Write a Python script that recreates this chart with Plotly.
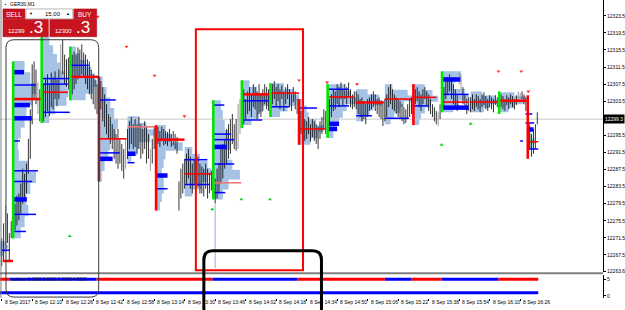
import plotly.graph_objects as go

W, H = 625, 310

# ---------------- data ----------------
tick_minutes = [0, 16, 32, 48, 64, 80, 96, 112, 128, 144, 160, 176, 192, 208, 224, 240, 256, 272]
tick_labels = ["8 Sep 2017", "8 Sep 12:10", "8 Sep 12:26", "8 Sep 12:42", "8 Sep 12:58",
               "8 Sep 13:14", "8 Sep 13:30", "8 Sep 13:46", "8 Sep 14:02", "8 Sep 14:18",
               "8 Sep 14:34", "8 Sep 14:50", "8 Sep 15:06", "8 Sep 15:22", "8 Sep 15:38",
               "8 Sep 15:54", "8 Sep 16:10", "8 Sep 16:26"]
price_ticks = [12323.5, 12319.5, 12315.5, 12311.5, 12307.5, 12303.5, 12295.5, 12291.5,
               12287.5, 12283.5, 12279.5, 12275.5, 12271.5, 12267.5, 12263.6]
current_price = 12299.3
bid_price = "12299"
ask_price = "12300"
lot_size = "15.00"

# one-minute bars, minute 0 = 11:54
bar_high = [
    12271.4, 12274.9, 12279.1, 12277.2, 12272.6, 12275.4,
    12278.4, 12279.5, 12281.4, 12281.9, 12284.2, 12287.7, 12286.5, 12288.9, 12294.7, 12301.6, 12312.1, 12312.8, 12310.9, 12307.9, 12306.3,
    12308.6, 12307.5, 12308.6, 12309.8, 12307.5, 12310.2, 12309.1, 12310.5, 12308.6, 12310.9, 12316.8, 12317.9, 12314.4, 12313.3, 12313.7,
    12313.3, 12314.4, 12315.1, 12314.4, 12316.1, 12315.6, 12316.8, 12314.9, 12314.4, 12313.3, 12312.8, 12310.9, 12309.8, 12308.6, 12307.5,
    12309.1, 12308.2, 12306.8, 12305.1, 12302.8, 12300.5, 12299.8, 12298.1, 12297.0, 12295.8, 12297.0, 12294.7, 12293.5, 12292.3, 12294.7,
    12297.0, 12298.8, 12299.8, 12298.1, 12299.3, 12298.1, 12299.8, 12298.1, 12297.0, 12298.8, 12297.5, 12295.8, 12292.3, 12294.7, 12297.5,
    12297.0, 12297.5, 12296.5, 12297.5, 12297.0, 12296.5, 12296.3, 12297.0, 12295.8, 12296.5, 12295.8, 12295.1, 12284.7, 12287.7, 12288.9,
    12290.0, 12291.2, 12292.3, 12290.5, 12288.9, 12290.0, 12291.9, 12290.5, 12288.9, 12288.2, 12287.7, 12288.9, 12287.7, 12286.5, 12287.2,
    12286.5, 12285.4, 12287.7, 12288.9, 12292.3, 12293.5, 12294.7, 12297.0, 12298.1, 12299.3, 12300.5, 12298.1, 12299.3, 12302.8, 12304.0,
    12305.1, 12306.3, 12304.0, 12305.8, 12306.8, 12305.1, 12307.5, 12306.8, 12305.8, 12307.5, 12305.1, 12306.3, 12307.5, 12306.8, 12306.3,
    12306.8, 12307.5, 12308.2, 12306.8, 12307.5, 12306.3, 12307.2, 12305.8, 12306.8, 12307.5, 12306.3, 12305.1, 12306.8, 12305.8, 12304.0,
    12302.8, 12301.2, 12299.8, 12299.3, 12298.8, 12299.8, 12298.1, 12299.3, 12298.8, 12298.1, 12297.5, 12298.8, 12299.8, 12301.6, 12301.2,
    12302.8, 12304.0, 12305.1, 12306.3, 12305.8, 12307.5, 12306.8, 12307.9, 12306.3, 12307.5, 12306.8, 12307.9, 12306.3, 12305.1, 12305.8,
    12305.8, 12305.1, 12304.0, 12304.4, 12303.5, 12302.8, 12304.0, 12304.4, 12305.1, 12305.8, 12305.1, 12304.0, 12304.4, 12303.5, 12302.8,
    12304.0, 12305.1, 12306.8, 12307.5, 12306.3, 12305.1, 12304.4, 12304.0, 12303.5, 12302.8, 12302.1, 12301.6, 12302.8, 12304.0, 12304.4,
    12305.1, 12306.3, 12306.8, 12305.8, 12305.1, 12306.3, 12306.8, 12305.8, 12305.1, 12304.0, 12302.8, 12302.1, 12301.2, 12300.9, 12302.8,
    12305.1, 12306.8, 12308.2, 12309.1, 12309.8, 12308.6, 12307.5, 12306.3, 12305.1, 12310.2, 12309.8, 12306.8, 12305.1, 12304.0, 12304.4,
    12304.4, 12305.1, 12304.0, 12305.1, 12304.7, 12304.0, 12305.1, 12305.6, 12304.7, 12304.0, 12304.9, 12304.4, 12304.0, 12304.9, 12304.4,
    12304.4, 12305.1, 12304.7, 12304.0, 12304.9, 12304.4, 12305.1, 12304.7, 12304.0, 12304.9, 12305.8, 12305.4, 12305.8, 12305.1, 12304.4,
    12301.6, 12298.1, 12295.8, 12297.0, 12298.1, 12300.9,
]
bar_low = [
    12264.9, 12266.3, 12269.8, 12270.3, 12266.3, 12271.4,
    12271.4, 12273.3, 12274.4, 12275.6, 12277.2, 12279.5, 12280.7, 12281.9, 12286.5, 12290.0, 12298.1, 12304.0, 12302.8, 12300.5, 12298.8,
    12298.4, 12298.8, 12299.8, 12301.2, 12300.0, 12302.1, 12301.6, 12304.0, 12302.3, 12304.0, 12308.6, 12309.8, 12307.5, 12306.8, 12306.3,
    12304.0, 12305.1, 12306.3, 12307.5, 12308.6, 12309.1, 12309.8, 12309.3, 12307.5, 12306.3, 12305.1, 12304.0, 12302.8, 12301.6, 12300.5,
    12302.8, 12301.6, 12298.8, 12297.5, 12295.8, 12294.7, 12293.5, 12292.3, 12290.0, 12288.9, 12287.7, 12288.9, 12287.2, 12285.4, 12287.7,
    12290.0, 12292.3, 12293.5, 12292.3, 12292.8, 12291.2, 12292.3, 12290.0, 12291.2, 12292.3, 12288.9, 12290.0, 12287.2, 12288.9, 12292.3,
    12292.3, 12293.5, 12292.8, 12294.2, 12293.2, 12293.5, 12293.0, 12294.0, 12292.8, 12293.2, 12292.3, 12291.2, 12277.9, 12280.7, 12281.9,
    12283.0, 12284.2, 12285.4, 12283.0, 12281.9, 12284.2, 12285.4, 12283.5, 12281.9, 12281.9, 12281.2, 12283.0, 12280.7, 12281.9, 12282.6,
    12280.7, 12279.5, 12280.7, 12281.9, 12284.2, 12285.4, 12287.7, 12288.9, 12290.0, 12291.2, 12293.5, 12292.3, 12291.9, 12292.3, 12295.8,
    12297.7, 12298.1, 12299.3, 12300.5, 12301.2, 12299.8, 12302.1, 12301.6, 12299.3, 12300.5, 12299.8, 12301.2, 12302.8, 12301.6, 12301.2,
    12301.6, 12302.8, 12304.0, 12302.1, 12303.5, 12301.6, 12304.0, 12301.2, 12302.8, 12304.0, 12302.1, 12301.2, 12303.3, 12301.6, 12300.5,
    12297.0, 12295.8, 12294.7, 12294.2, 12294.7, 12295.8, 12294.0, 12295.1, 12294.2, 12293.5, 12292.3, 12294.7, 12295.8, 12297.0, 12295.8,
    12298.1, 12298.1, 12299.8, 12301.2, 12301.6, 12302.8, 12302.1, 12304.0, 12302.6, 12304.0, 12302.8, 12304.4, 12302.1, 12301.6, 12302.1,
    12301.6, 12300.5, 12299.8, 12298.8, 12299.3, 12298.1, 12299.8, 12301.2, 12301.6, 12302.1, 12301.2, 12300.5, 12299.8, 12299.3, 12297.7,
    12298.8, 12299.8, 12302.1, 12302.8, 12301.6, 12301.2, 12300.5, 12299.8, 12299.3, 12298.8, 12298.1, 12298.4, 12299.3, 12299.8, 12300.5,
    12301.6, 12302.8, 12303.5, 12302.1, 12301.2, 12302.8, 12304.0, 12302.6, 12301.2, 12300.5, 12299.8, 12298.8, 12298.1, 12297.7, 12299.3,
    12301.2, 12302.1, 12304.0, 12305.1, 12305.8, 12304.0, 12302.8, 12302.1, 12301.2, 12307.5, 12306.3, 12302.8, 12301.6, 12300.5, 12301.2,
    12300.9, 12301.6, 12301.2, 12302.1, 12301.6, 12300.9, 12302.1, 12302.6, 12301.6, 12301.2, 12302.1, 12301.6, 12300.9, 12302.6, 12302.1,
    12301.6, 12302.1, 12301.6, 12301.2, 12302.6, 12301.6, 12302.8, 12302.1, 12301.6, 12302.6, 12303.5, 12303.0, 12304.0, 12302.8, 12301.2,
    12295.8, 12292.3, 12290.5, 12291.2, 12292.3, 12298.1,
]
gray_bars = [2, 19, 31, 65, 78, 124, 125, 229, 240, 241, 271, 272]

wick_minute = [112]
wick_low = [12264.4]
wick_high = [12279.3]

# 15-minute volume profiles
profile_start = [-9, 6, 21, 36, 51, 66, 81, 96, 111, 126, 141, 156, 171, 186, 201, 216, 231, 246, 261, 276]
profile_low = [12267.3, 12271.4, 12298.4, 12303.7, 12284.7, 12289.3, 12277.9, 12281.2, 12280.5, 12297.9,
               12299.8, 12293.3, 12294.9, 12298.8, 12298.1, 12297.9, 12300.9, 12300.9, 12300.9, 12292.3]
profile_high = [12270.7, 12312.9, 12318.6, 12316.3, 12309.3, 12300.0, 12297.9, 12292.8, 12303.7, 12308.4,
                12307.7, 12304.0, 12307.5, 12306.3, 12307.5, 12307.5, 12310.5, 12305.8, 12305.6, 12296.0]
profile_widths = [
    [10, 11.5, 12.3, 11],
    [4, 6, 8, 7, 9, 12, 8, 3, 2.5, 4, 6, 7, 10, 12, 9, 6],
    [4, 7, 13, 14, 13, 12, 10, 8, 6, 4],
    [8, 12, 14, 13, 11, 8, 5, 3],
    [1.5, 3, 5, 6, 9, 10, 8, 6, 4, 2],
    [2, 5, 6, 12, 14, 10, 6],
    [2, 3, 4, 4, 3, 4, 5, 14, 8, 5],
    [4, 9, 12, 14, 12, 8, 4],
    [5, 8, 14, 10, 7, 9, 8, 6, 5, 4],
    [5, 9, 11, 14, 15, 8, 4],
    [5, 9, 13, 15, 12, 7],
    [6, 10, 13, 9, 5, 4, 2],
    [3, 4, 6, 8, 10, 15, 12, 9],
    [4, 7, 9, 14, 12, 6],
    [3, 5, 8, 10, 15, 12, 4],
    [3, 4, 6, 9, 13, 10, 6],
    [6, 9, 14, 12, 6, 7, 10],
    [7, 10, 14, 13, 6],
    [5, 8, 13, 14, 8],
    [2.5, 3.5, 2],
]

# session open lines
open_minute = [6, 21, 36, 51, 81, 111, 126, 141, 156, 171, 216, 231, 261, 276]
open_low = [12271.4, 12298.4, 12303.7, 12284.7, 12277.9, 12280.5, 12297.2, 12299.8, 12293.3, 12294.9, 12297.9, 12300.9, 12300.5, 12290.0]
open_high = [12312.8, 12318.6, 12316.3, 12309.3, 12297.9, 12303.7, 12308.4, 12307.7, 12304.0, 12307.5, 12307.5, 12310.5, 12305.8, 12304.9]
open_up = [True, True, True, False, False, True, True, True, False, True, False, True, True, False]

# point of control lines
poc_price = [12266.1, 12304.0, 12305.6, 12309.2, 12294.7, 12297.5, 12294.5, 12286.5, 12284.4, 12305.1,
             12305.4, 12297.0, 12304.5, 12303.2, 12304.0, 12304.4, 12303.3, 12303.3, 12303.6, 12294.0]
poc_start = [0.6, 6, 21, 36, 51, 66, 81, 96, 111, 126, 141, 156, 171, 186, 201, 216, 231, 246, 261, 276]
poc_end = [5.9, 20.6, 34.7, 50.9, 65.5, 80.7, 95.9, 110.5, 125.7, 141.4, 156, 170.1, 184.8, 200.5, 215, 228, 245, 260.6, 275.3, 281.5]
poc_strong = [True, True, False, True, False, False, True, False, False, True, False, False, False, True, False, False, False, False, True, False]
poc_faded = [False, False, False, False, False, True, False, False, True, False, False, False, False, False, False, False, False, False, False, False]

# high-volume node lines
node_price = [12268.6, 12310.3, 12307.3, 12302.6, 12299.5, 12294.2, 12287.2, 12284.7, 12280.5, 12277.0, 12273.0,
              12308.8, 12307.5, 12300.9, 12311.9,
              12303.8, 12291.4, 12290.0, 12291.2, 12289.1, 12286.1, 12283.0, 12289.8, 12284.0,
              12302.6, 12295.8, 12294.5, 12292.8, 12288.8, 12282.1, 12303.6, 12299.1, 12302.2, 12301.9,
              12306.3, 12302.4, 12298.2, 12297.0, 12300.1, 12299.5, 12302.4, 12308.6, 12305.1, 12302.0,
              12300.5, 12298.4, 12296.9, 12292.3, 12294.2]
node_start = [0.2, 6, 6, 6, 6, 6, 6, 6, 6, 6, 6,
              21, 21, 21, 36,
              51, 51, 51, 66, 66, 81, 81, 96, 96,
              111, 111, 111, 111, 111, 111, 126, 126, 141, 156,
              171, 171, 171, 171, 186, 201, 216, 231, 231, 231,
              274.8, 274.8, 276.3, 276.3, 272]
node_end = [4.3, 11.7, 18, 14.8, 15.8, 9.6, 19, 16, 13.2, 18, 12.7,
            35.7, 34.7, 35.7, 45.7,
            59.8, 61.9, 58.2, 70.2, 69.7, 87, 87, 107.9, 108.9,
            116.8, 120.4, 122, 118, 122, 117.3, 140.3, 136.7, 150.8, 165.4,
            182.2, 182.2, 177, 176, 194.2, 213.6, 224, 240.7, 245, 245,
            278.4, 279.4, 279, 281.5, 273.5]
node_heavy = [False, True, False, True, True, False, False, False, True, False, False,
              False, False, False, False,
              False, False, True, True, False, True, False, False, False,
              False, False, False, True, False, False, False, False, False, False,
              False, False, True, True, False, False, False, True, False, True,
              False, False, True, False, False]

# signal arrows
sell_minute = [50.4, 65.5, 80.2, 95.9, 156, 170.7, 186.4, 260.6, 272.6, 276.3]
sell_price = [12323.3, 12316.3, 12309.5, 12300.0, 12308.4, 12307.9, 12307.5, 12310.5, 12310.5, 12305.8]
buy_minute = [35.7, 110.5, 125.7, 140.8, 230.8, 246]
buy_price = [12271.9, 12278.2, 12280.5, 12280.5, 12293.3, 12298.2]

# lower indicator window
state_edges = [-0.9, 4.3, 49.8, 110.5, 155, 201, 215, 230.8, 260.6, 281.5]
state_up = [False, True, False, True, False, True, False, True, False]
state_level = 5
base_level = 1

# ---------------- figure ----------------
X_MIN, X_MAX = -0.89, 315.5
Y_MIN, Y_MAX = 12263.45, 12327.2
X_END = 605 / W


def pxx(p):
    return p / W


def pxy(p):
    return 1 - p / H


fig = go.Figure()


def profile_xy(starts, lows, highs, widths_list):
    xs, ys = [], []
    for t0, lo, hi, ws in zip(starts, lows, highs, widths_list):
        step = (hi - lo) / len(ws)
        xs.append(t0)
        ys.append(lo)
        for i, w in enumerate(ws):
            xs += [t0 + w, t0 + w]
            ys += [lo + i * step, lo + (i + 1) * step]
        xs += [t0, None]
        ys += [hi, None]
    return xs, ys

px_, py_ = profile_xy(profile_start[:-1], profile_low[:-1], profile_high[:-1], profile_widths[:-1])
fig.add_trace(go.Scatter(x=px_, y=py_, fill='toself', fillcolor='#a5c2e5', mode='lines',
                         line=dict(width=0, color='#a5c2e5'), hoverinfo='skip'))
px_, py_ = profile_xy(profile_start[-1:], profile_low[-1:], profile_high[-1:], profile_widths[-1:])
fig.add_trace(go.Scatter(x=px_, y=py_, fill='toself', fillcolor='#92dcd0', mode='lines',
                         line=dict(width=0, color='#92dcd0'), hoverinfo='skip'))

# current price line
fig.add_trace(go.Scatter(x=[X_MIN, X_MAX], y=[current_price, current_price], mode='lines',
                         line=dict(color='#c8c8c8', width=1), hoverinfo='skip'))

# long wick
wx, wy = [], []
for m, lo, hi in zip(wick_minute, wick_low, wick_high):
    wx += [m, m, None]
    wy += [lo, hi, None]
fig.add_trace(go.Scatter(x=wx, y=wy, mode='lines', line=dict(color='#b0b8ec', width=1.2), hoverinfo='skip'))

# bar sticks
bx, by, gx, gy = [], [], [], []
for i, (h, l) in enumerate(zip(bar_high, bar_low)):
    if i in gray_bars:
        gx += [i, i, None]
        gy += [l, h, None]
    else:
        bx += [i, i, None]
        by += [l, h, None]
fig.add_trace(go.Scatter(x=gx, y=gy, mode='lines', line=dict(color='#9a9a9a', width=1), hoverinfo='skip'))
fig.add_trace(go.Scatter(x=bx, y=by, mode='lines', line=dict(color='#000000', width=0.8), hoverinfo='skip'))

# node lines
for heavy, wdt in [(False, 1.5), (True, 4.5)]:
    nx, ny = [], []
    for p, s, e, hv in zip(node_price, node_start, node_end, node_heavy):
        if hv == heavy:
            nx += [s, e, None]
            ny += [p, p, None]
    fig.add_trace(go.Scatter(x=nx, y=ny, mode='lines', line=dict(color='#0000ff', width=wdt), hoverinfo='skip'))

# POC lines
for strong in (False, True):
    for faded in (False, True):
        cx, cy = [], []
        for p, s, e, st, fd in zip(poc_price, poc_start, poc_end, poc_strong, poc_faded):
            if st == strong and fd == faded:
                cx += [s, e, None]
                cy += [p, p, None]
        if cx:
            fig.add_trace(go.Scatter(x=cx, y=cy, mode='lines',
                                     line=dict(color='#f07878' if faded else '#ff0000', width=2.5 if strong else 1.6),
                                     hoverinfo='skip'))

# session open lines
for up in (True, False):
    ox, oy = [], []
    for m, lo, hi, u in zip(open_minute, open_low, open_high, open_up):
        if u == up:
            ox += [m, m, None]
            oy += [lo, hi, None]
    fig.add_trace(go.Scatter(x=ox, y=oy, mode='lines',
                             line=dict(color='#00e600' if up else '#ff0000', width=2.6), hoverinfo='skip'))

# signal arrows
fig.add_trace(go.Scatter(x=sell_minute, y=sell_price, mode='markers',
                         marker=dict(symbol='triangle-down', size=3.5, color='#ff3030'), hoverinfo='skip'))
fig.add_trace(go.Scatter(x=buy_minute, y=buy_price, mode='markers',
                         marker=dict(symbol='triangle-up', size=3.5, color='#10d010'), hoverinfo='skip'))

# lower window
for up in (True, False):
    sx, sy = [], []
    for k, u in enumerate(state_up):
        if u == up:
            sx += [state_edges[k], state_edges[k + 1], None]
            sy += [state_level, state_level, None]
    fig.add_trace(go.Scatter(x=sx, y=sy, mode='lines', yaxis='y2',
                             line=dict(color='#0000ff' if up else '#ff0000', width=3), hoverinfo='skip'))
fig.add_trace(go.Scatter(x=[state_edges[0], state_edges[-1]], y=[base_level, base_level], mode='lines', yaxis='y2',
                         line=dict(color='#0000ff', width=3), hoverinfo='skip'))

FONT = "Liberation Sans"
fig.update_layout(
    width=W, height=H, margin=dict(l=0, r=0, t=0, b=0),
    paper_bgcolor='white', plot_bgcolor='white', showlegend=False,
    xaxis=dict(domain=[0, X_END], range=[X_MIN, X_MAX], anchor='y2', showgrid=False, zeroline=False,
               tickmode='array', tickvals=tick_minutes, ticks='outside', ticklen=2, tickcolor='#000',
               showticklabels=False, showline=False, fixedrange=True),
    yaxis=dict(domain=[1 - 274 / H, 1], range=[Y_MIN, Y_MAX], side='right', anchor='x', showgrid=False,
               zeroline=False, tickmode='array', tickvals=price_ticks,
               ticktext=[f"{v:.1f}" for v in price_ticks], ticks='outside', ticklen=2, tickcolor='#000',
               showline=True, linecolor='#000', linewidth=1,
               tickfont=dict(family=FONT, size=5, color='#000')),
    yaxis2=dict(domain=[1 - 300 / H, 1 - 277 / H], range=[-0.62, 6.19], side='right', anchor='x', showgrid=False,
                zeroline=False, tickmode='array', tickvals=[5, 0], ticktext=['5', '0'], ticks='outside', ticklen=2,
                tickcolor='#000', showline=True, linecolor='#000', linewidth=1,
                tickfont=dict(family=FONT, size=5, color='#000')),
)

shapes = []
ann = []

# frame lines
shapes.append(dict(type='line', xref='paper', yref='paper', x0=pxx(1), x1=pxx(1), y0=pxy(0), y1=pxy(300),
                   line=dict(color='#808080', width=1)))
shapes.append(dict(type='line', xref='paper', yref='paper', x0=0, x1=X_END, y0=pxy(275), y1=pxy(275),
                   line=dict(color='#808080', width=2)))


def rrect_path(x0, y0, x1, y1, r):
    pts = [('M', x0, y0 + r), ('Q', x0, y0, x0 + r, y0), ('L', x1 - r, y0), ('Q', x1, y0, x1, y0 + r),
           ('L', x1, y1 - r), ('Q', x1, y1, x1 - r, y1), ('L', x0 + r, y1), ('Q', x0, y1, x0, y1 - r)]
    out = []
    for seg in pts:
        cmd = seg[0]
        coords = seg[1:]
        parts = []
        for j in range(0, len(coords), 2):
            parts.append(f"{pxx(coords[j]):.5f},{pxy(coords[j + 1]):.5f}")
        out.append(cmd + ' ' + ' '.join(parts))
    return ' '.join(out) + ' Z'

# drawn highlight objects
shapes.append(dict(type='path', xref='paper', yref='paper', path=rrect_path(6, 40, 99, 299, 8),
                   line=dict(color='#3a3a3a', width=1)))
shapes.append(dict(type='rect', xref='paper', yref='paper', x0=pxx(196.5), x1=pxx(304), y0=pxy(29.5), y1=pxy(272),
                   line=dict(color='#ff0000', width=2)))
shapes.append(dict(type='path', xref='paper', yref='paper', path=rrect_path(204.5, 252.5, 322.5, 330, 9),
                   line=dict(color='#000000', width=3)))

# trade panel
RED = '#c8141f'
for (x0, y0, x1, y1) in [(3, 9, 25, 19), (74, 9, 97, 19), (3, 19.5, 48.5, 37), (50, 19.5, 97, 37)]:
    shapes.append(dict(type='rect', xref='paper', yref='paper', x0=pxx(x0), x1=pxx(x1), y0=pxy(y0), y1=pxy(y1),
                       fillcolor=RED, line=dict(color='#a00010', width=0.5), layer='above'))
shapes.append(dict(type='rect', xref='paper', yref='paper', x0=pxx(26), x1=pxx(73), y0=pxy(9), y1=pxy(19),
                   fillcolor='white', line=dict(color='#9a9a9a', width=0.7), layer='above'))


def text(x, y, s, size, color='#000', anchor='left'):
    ann.append(dict(x=pxx(x), y=pxy(y), xref='paper', yref='paper', text=s,
                    showarrow=False, xanchor=anchor, yanchor='middle',
                    font=dict(family=FONT, size=size, color=color)))

text(14, 14.2, "SELL", 6.5, '#ffffff', 'center')
text(85.5, 14.2, "BUY", 6.5, '#ffffff', 'center')
text(31, 14, "▼", 4, '#000', 'center')
text(68, 14, "▲", 4, '#000', 'center')
text(53, 14.2, lot_size, 6, '#000', 'center')
text(17, 31, bid_price, 6, '#ffffff', 'center')
text(27, 27.5, ".3", 17, '#ffffff', 'left')
text(64, 31, ask_price, 6, '#ffffff', 'center')
text(74, 27.5, ".3", 17, '#ffffff', 'left')
text(2, 4, "▲", 3, '#333', 'left')
text(8, 4, "GER30,M1", 5, '#000', 'left')
text(10, 281, "volume 1.0000 2.0000 3.0000 4.0000", 4.5, '#202020', 'left')

# current price label
ann.append(dict(x=X_END, y=current_price, xref='paper', yref='y', text=f"{current_price:.1f}", showarrow=False,
                xanchor='left', yanchor='middle', bgcolor='#000000', borderpad=1,
                font=dict(family=FONT, size=5, color='#ffffff')))

# time labels
for m, lab in zip(tick_minutes, tick_labels):
    ann.append(dict(x=m, y=pxy(303.5), xref='x', yref='paper', text=lab, showarrow=False, xanchor='left',
                    yanchor='middle', xshift=1, font=dict(family=FONT, size=5, color='#000')))

fig.update_layout(shapes=shapes, annotations=ann)
fig.write_html("out.html")
